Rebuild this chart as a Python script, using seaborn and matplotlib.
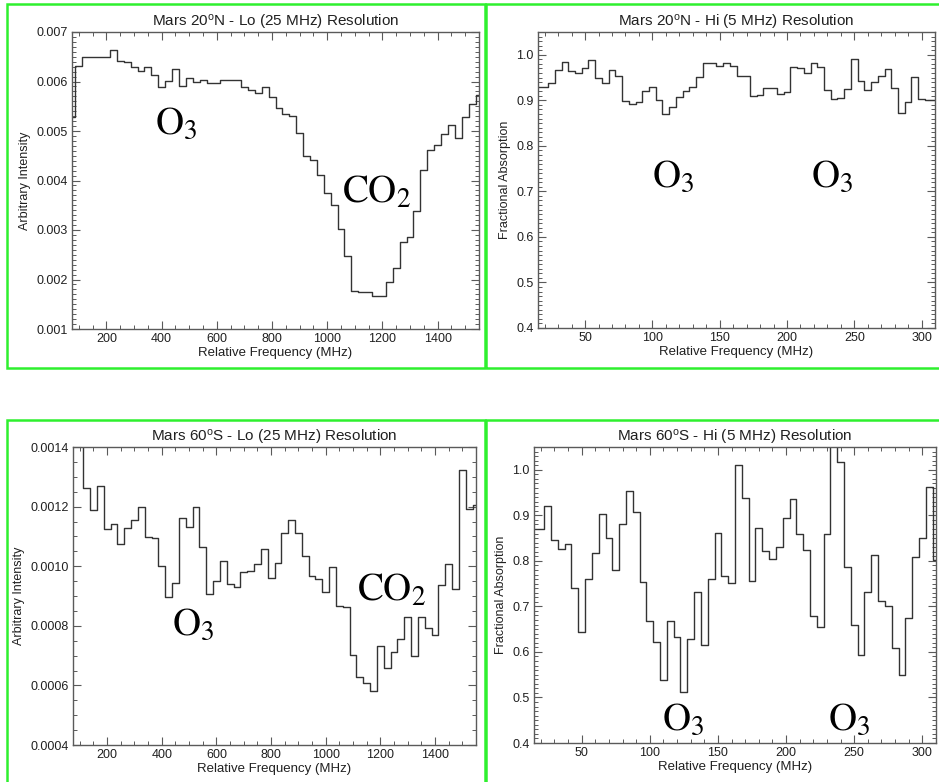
import numpy as np
import matplotlib
matplotlib.use('Agg')
import matplotlib.pyplot as plt
from matplotlib.patches import Rectangle
from matplotlib.ticker import MultipleLocator, FormatStrFormatter
import seaborn as sns

# ── DATA ────────────────────────────────────────────────────────────────────
LO_FREQ = np.arange(60) * 25 + 75      # MHz, 25 MHz channels
HI_FREQ = np.arange(60) * 5 + 15       # MHz, 5 MHz channels

lo_20n = [0.00528, 0.00632, 0.00650, 0.00650, 0.00650, 0.00649, 0.00664, 0.00642, 0.00639, 0.00630,
          0.00621, 0.00630, 0.00613, 0.00588, 0.00601, 0.00625, 0.00591, 0.00608, 0.00600, 0.00603,
          0.00596, 0.00597, 0.00604, 0.00603, 0.00604, 0.00588, 0.00582, 0.00576, 0.00588, 0.00568,
          0.00547, 0.00535, 0.00530, 0.00496, 0.00450, 0.00441, 0.00411, 0.00375, 0.00351, 0.00302,
          0.00248, 0.00176, 0.00175, 0.00175, 0.00167, 0.00167, 0.00194, 0.00224, 0.00275, 0.00285,
          0.00339, 0.00421, 0.00462, 0.00472, 0.00494, 0.00512, 0.00485, 0.00529, 0.00554, 0.00572]

hi_20n = [0.929, 0.929, 0.939, 0.966, 0.985, 0.964, 0.961, 0.970, 0.988, 0.950,
          0.939, 0.967, 0.953, 0.899, 0.891, 0.896, 0.920, 0.929, 0.900, 0.871,
          0.885, 0.908, 0.921, 0.929, 0.951, 0.981, 0.981, 0.975, 0.982, 0.975,
          0.953, 0.953, 0.910, 0.912, 0.928, 0.926, 0.914, 0.919, 0.973, 0.971,
          0.961, 0.982, 0.974, 0.922, 0.902, 0.904, 0.924, 0.991, 0.943, 0.923,
          0.941, 0.953, 0.969, 0.926, 0.872, 0.896, 0.951, 0.903, 0.900, 0.900]

lo_60s = [0.00150, 0.00150, 0.001262, 0.001188, 0.001269, 0.001126, 0.001143, 0.001073, 0.001129, 0.001154,
          0.001199, 0.001099, 0.001093, 0.000999, 0.000895, 0.000945, 0.001161, 0.001131, 0.001197, 0.001065,
          0.000908, 0.000952, 0.001018, 0.000941, 0.000931, 0.000980, 0.000983, 0.001007, 0.001058, 0.000959,
          0.001012, 0.001112, 0.001154, 0.001110, 0.001035, 0.000968, 0.000957, 0.000914, 0.000997, 0.000866,
          0.000863, 0.000702, 0.000628, 0.000609, 0.000582, 0.000731, 0.000659, 0.000712, 0.000757, 0.000829,
          0.000697, 0.000829, 0.000794, 0.000769, 0.000937, 0.001009, 0.000922, 0.001324, 0.001192, 0.001205]

hi_60s = [0.871, 0.871, 0.921, 0.846, 0.827, 0.838, 0.740, 0.644, 0.760, 0.818,
          0.902, 0.851, 0.780, 0.880, 0.954, 0.908, 0.754, 0.668, 0.622, 0.539,
          0.668, 0.633, 0.511, 0.628, 0.732, 0.616, 0.760, 0.862, 0.766, 0.751,
          1.011, 0.939, 0.755, 0.872, 0.821, 0.804, 0.831, 0.893, 0.936, 0.860,
          0.824, 0.679, 0.655, 0.859, 1.080, 1.018, 0.787, 0.659, 0.593, 0.732,
          0.813, 0.712, 0.700, 0.608, 0.550, 0.674, 0.809, 0.850, 0.963, 0.802]

TITLES = ["Mars 20$^\\mathrm{o}$N - Lo (25 MHz) Resolution",
          "Mars 20$^\\mathrm{o}$N - Hi (5 MHz) Resolution",
          "Mars 60$^\\mathrm{o}$S - Lo (25 MHz) Resolution",
          "Mars 60$^\\mathrm{o}$S - Hi (5 MHz) Resolution"]
YLABEL_LO = "Arbitrary Intensity"
YLABEL_HI = "Fractional Absorption"
XLABEL = "Relative Frequency (MHz)"

# ── STYLE ───────────────────────────────────────────────────────────────────
sns.set_theme(style='ticks')
plt.rcParams['font.family'] = ['Liberation Sans', 'DejaVu Sans']
plt.rcParams['mathtext.fontset'] = 'custom'
plt.rcParams['mathtext.rm'] = 'Liberation Sans'
plt.rcParams['mathtext.it'] = 'Liberation Sans:italic'

LINE = '#333333'
SPINE = '#5a5a5a'
GREEN = '#2ef02e'

W, H = 939, 782
fig = plt.figure(figsize=(W / 100, H / 100), dpi=100)


def px_box(left, top, right, bottom):
    return [left / W, 1 - bottom / H, (right - left) / W, (bottom - top) / H]


# green frames around each panel
for l, t, r, b in [(7, 4, 485, 368), (486, 4, 960, 368),
                   (7, 420, 485, 800), (486, 420, 960, 800)]:
    fig.patches.append(Rectangle((l / W, 1 - b / H), (r - l) / W, (b - t) / H,
                                 transform=fig.transFigure, fill=False,
                                 edgecolor=GREEN, linewidth=1.8, zorder=0))


def panel(box, x, y, title, ylabel, xlim, ylim, xmaj, xmin, ymaj, ymin, yfmt, labels):
    ax = fig.add_axes(px_box(*box))
    sns.lineplot(x=x, y=y, ax=ax, color=LINE, linewidth=1.0,
                 drawstyle='steps-mid', estimator=None)
    ax.set_xlim(*xlim)
    ax.set_ylim(*ylim)
    ax.xaxis.set_major_locator(MultipleLocator(xmaj))
    ax.xaxis.set_minor_locator(MultipleLocator(xmin))
    ax.yaxis.set_major_locator(MultipleLocator(ymaj))
    ax.yaxis.set_minor_locator(MultipleLocator(ymin))
    ax.yaxis.set_major_formatter(FormatStrFormatter(yfmt))
    ax.tick_params(which='both', direction='in', top=True, right=True,
                   color=SPINE, labelsize=9, labelcolor='#202020', pad=3)
    ax.tick_params(which='major', length=6, width=0.8)
    ax.tick_params(which='minor', length=3, width=0.7)
    for s in ax.spines.values():
        s.set_color(SPINE)
        s.set_linewidth(1.0)
    ax.set_title(title, fontsize=11, color='#202020', pad=4)
    ax.set_xlabel(XLABEL, fontsize=9.5, color='#202020', labelpad=1)
    ax.set_ylabel(ylabel, fontsize=9, color='#202020', labelpad=4)
    for tx, ty, s in labels:
        ax.text(tx, ty, s, fontsize=28, math_fontfamily='stix',
                ha='left', va='baseline', color='black')
    return ax


panel((72, 32, 479, 329), LO_FREQ, lo_20n, TITLES[0], YLABEL_LO,
      (75, 1550), (0.001, 0.007), 200, 50, 0.001, 0.0001, '%.3f',
      [(376, 0.00494, r'$\mathrm{O_3}$'), (1052, 0.00355, r'$\mathrm{CO_2}$')])

panel((538, 32, 935, 328), HI_FREQ, hi_20n, TITLES[1], YLABEL_HI,
      (15, 310), (0.4, 1.05), 50, 10, 0.1, 0.01, '%.1f',
      [(100, 0.710, r'$\mathrm{O_3}$'), (218, 0.710, r'$\mathrm{O_3}$')])

panel((73, 447, 476, 745), LO_FREQ, lo_60s, TITLES[2], YLABEL_LO,
      (75, 1550), (0.0004, 0.0014), 200, 50, 0.0002, 0.00005, '%.4f',
      [(437, 0.000771, r'$\mathrm{O_3}$'), (1114, 0.000884, r'$\mathrm{CO_2}$')])

panel((534, 447, 936, 743), HI_FREQ, hi_60s, TITLES[3], YLABEL_HI,
      (15, 310), (0.4, 1.05), 50, 10, 0.1, 0.01, '%.1f',
      [(109, 0.430, r'$\mathrm{O_3}$'), (231, 0.430, r'$\mathrm{O_3}$')])

plt.savefig('out.png', dpi=100)
plt.close()
